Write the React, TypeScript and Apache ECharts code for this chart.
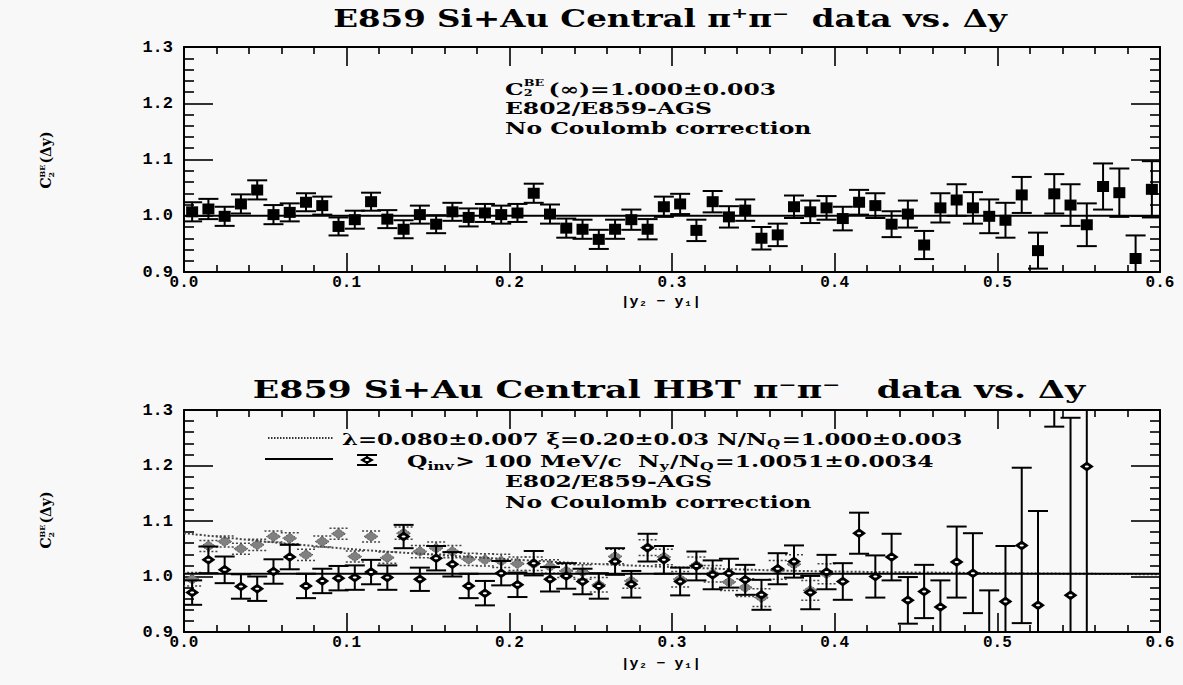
import { useEffect, useRef } from "react";
import * as echarts from "echarts";

// ---------- data ----------
const binCenters = [
  0.005, 0.015, 0.025, 0.035, 0.045, 0.055, 0.065, 0.075, 0.085, 0.095,
  0.105, 0.115, 0.125, 0.135, 0.145, 0.155, 0.165, 0.175, 0.185, 0.195,
  0.205, 0.215, 0.225, 0.235, 0.245, 0.255, 0.265, 0.275, 0.285, 0.295,
  0.305, 0.315, 0.325, 0.335, 0.345, 0.355, 0.365, 0.375, 0.385, 0.395,
  0.405, 0.415, 0.425, 0.435, 0.445, 0.455, 0.465, 0.475, 0.485, 0.495,
  0.505, 0.515, 0.525, 0.535, 0.545, 0.555, 0.565, 0.575, 0.585, 0.595,
];

// top panel: pi+ pi- C2(dy)
const topValues = [
  1.007, 1.012, 0.999, 1.021, 1.046, 1.002, 1.006, 1.024, 1.018, 0.981,
  0.993, 1.025, 0.994, 0.976, 1.002, 0.985, 1.007, 0.997, 1.005, 1.002,
  1.005, 1.040, 1.003, 0.978, 0.976, 0.958, 0.976, 0.993, 0.976, 1.016,
  1.021, 0.974, 1.025, 0.998, 1.010, 0.960, 0.966, 1.016, 1.007, 1.014,
  0.995, 1.024, 1.018, 0.985, 1.003, 0.948, 1.014, 1.028, 1.014, 0.999,
  0.992, 1.037, 0.938, 1.039, 1.019, 0.984, 1.052, 1.041, 0.924, 1.047,
];
const topErrors = [
  0.017, 0.018, 0.017, 0.017, 0.017, 0.017, 0.016, 0.016, 0.016, 0.016,
  0.016, 0.016, 0.016, 0.016, 0.016, 0.016, 0.016, 0.016, 0.016, 0.016,
  0.016, 0.017, 0.017, 0.017, 0.017, 0.017, 0.017, 0.018, 0.018, 0.018,
  0.018, 0.019, 0.019, 0.019, 0.019, 0.020, 0.020, 0.020, 0.020, 0.021,
  0.021, 0.022, 0.022, 0.023, 0.024, 0.025, 0.026, 0.028, 0.028, 0.030,
  0.031, 0.032, 0.032, 0.035, 0.037, 0.038, 0.041, 0.043, 0.041, 0.050,
];
const topFitLevel = 1.0;

// bottom panel: pi- pi-, Qinv > 100 MeV/c (solid diamonds)
const hbtValues = [
  0.971, 1.030, 1.012, 0.982, 0.978, 1.009, 1.035, 0.983, 0.992, 0.997,
  0.998, 1.008, 0.998, 1.072, 0.995, 1.033, 1.022, 0.983, 0.970, 1.006,
  0.985, 1.024, 0.995, 1.001, 0.991, 0.983, 1.027, 0.986, 1.052, 1.030,
  0.991, 1.019, 1.003, 1.006, 0.994, 0.967, 1.014, 1.027, 0.971, 1.008,
  0.991, 1.078, 1.000, 1.035, 0.957, 0.973, 0.945, 1.026, 1.006, 0.890,
  0.955, 1.056, 0.948, 1.500, 0.966, 1.198,
];
const hbtErrors = [
  0.022, 0.024, 0.024, 0.022, 0.022, 0.022, 0.022, 0.022, 0.022, 0.022,
  0.022, 0.022, 0.022, 0.021, 0.021, 0.022, 0.022, 0.022, 0.022, 0.022,
  0.022, 0.022, 0.022, 0.023, 0.023, 0.023, 0.024, 0.024, 0.025, 0.025,
  0.025, 0.026, 0.026, 0.026, 0.027, 0.027, 0.028, 0.029, 0.030, 0.031,
  0.033, 0.037, 0.038, 0.042, 0.042, 0.048, 0.048, 0.064, 0.072, 0.085,
  0.100, 0.140, 0.170, 0.230, 0.320, 0.400,
];
const hbtFitLevel = 1.005;

// bottom panel: all-Q data (hatched, dotted error bars)
const allQValues = [
  0.995, 1.055, 1.063, 1.050, 1.057, 1.072, 1.069, 1.039, 1.063, 1.077,
  1.036, 1.072, 1.034, 1.078, 1.045, 1.051, 1.045, 1.031, 1.030, 1.028,
  1.023, 1.023, 1.018, 1.010, 1.008, 0.985, 1.036, 0.992, 1.052, 1.035,
  0.995, 1.020, 1.005, 0.990, 0.980, 0.962, 1.012, 1.022, 0.975, 1.005,
];
const allQErrors = [
  0.012, 0.010, 0.010, 0.010, 0.010, 0.010, 0.010, 0.010, 0.010, 0.010,
  0.010, 0.010, 0.010, 0.011, 0.011, 0.011, 0.011, 0.011, 0.011, 0.012,
  0.012, 0.012, 0.012, 0.012, 0.013, 0.013, 0.013, 0.013, 0.014, 0.014,
  0.014, 0.015, 0.015, 0.015, 0.016, 0.016, 0.017, 0.017, 0.018, 0.018,
];

// fit curve (dotted)
const fitX = [0.0, 0.05, 0.1, 0.15, 0.2, 0.25, 0.3, 0.35, 0.4, 0.5, 0.6];
const fitY = [1.078, 1.063, 1.050, 1.040, 1.031, 1.023, 1.017, 1.012, 1.009, 1.006, 1.004];

const xTickLabels = ["0.0", "0.1", "0.2", "0.3", "0.4", "0.5", "0.6"];
const yTickLabels = ["0.9", "1.0", "1.1", "1.2", "1.3"];

// ---------- style ----------
const MONO = "'Liberation Mono', 'DejaVu Sans Mono', monospace";
const SERIF = "'DejaVu Serif', 'Liberation Serif', serif";
const NB = "\u00a0";
const LEG_SX = 1.42;
const LEG_FS = 16.5;

let measureCtx: CanvasRenderingContext2D | null = null;
const measure = (text: string, size: number, family: string) => {
  if (!measureCtx) measureCtx = document.createElement("canvas").getContext("2d");
  if (!measureCtx) return text.length * size * 0.6;
  measureCtx.font = `bold ${size}px ${family}`;
  return measureCtx.measureText(text).width;
};

const xAxisDef = (gridIndex: number, position: string, showLabels: boolean) => ({
  type: "value",
  gridIndex,
  position,
  min: 0,
  max: 0.6,
  interval: 0.1,
  axisLine: { show: true, onZero: false, lineStyle: { color: "#000", width: 2 } },
  axisTick: { show: true, inside: true, length: 19, lineStyle: { color: "#000", width: 1.6 } },
  minorTick: { show: true, splitNumber: 5, length: 7, lineStyle: { color: "#000", width: 1.6 } },
  splitLine: { show: false },
  minorSplitLine: { show: false },
  axisLabel: {
    show: showLabels,
    margin: 3,
    color: "#000",
    fontFamily: MONO,
    fontWeight: "bold",
    fontSize: 16,
    formatter: (v: number) => xTickLabels[Math.round(v * 10)] ?? "",
  },
});

const yAxisDef = (gridIndex: number, position: string, showLabels: boolean) => ({
  type: "value",
  gridIndex,
  position,
  min: 0.9,
  max: 1.3,
  interval: 0.1,
  axisLine: { show: true, onZero: false, lineStyle: { color: "#000", width: 2 } },
  axisTick: { show: true, inside: true, length: 29, lineStyle: { color: "#000", width: 1.6 } },
  minorTick: { show: true, splitNumber: 5, length: 10, lineStyle: { color: "#000", width: 1.6 } },
  splitLine: { show: false },
  minorSplitLine: { show: false },
  axisLabel: {
    show: showLabels,
    margin: 11,
    color: "#000",
    fontFamily: MONO,
    fontWeight: "bold",
    fontSize: 17,
    formatter: (v: number) => yTickLabels[Math.round((v - 0.9) * 10)] ?? "",
  },
});

const diamondPts = (cx: number, cy: number, w: number, h: number) => [
  [cx - w, cy],
  [cx, cy - h],
  [cx + w, cy],
  [cx, cy + h],
];

const makeRender = (marker: string) => (_params: any, api: any) => {
  const x = api.value(0);
  const y = api.value(1);
  const e = api.value(2);
  const c = api.coord([x, y]);
  const hi = api.coord([x, y + e]);
  const lo = api.coord([x, y - e]);
  const dashed = marker === "hatch";
  const ls: any = dashed
    ? { stroke: "#444", lineWidth: 1.5, lineDash: [2, 2] }
    : { stroke: "#000", lineWidth: 2 };
  const cap = dashed ? 9 : 10;
  const children: any[] = [
    { type: "line", shape: { x1: c[0], y1: hi[1], x2: c[0], y2: lo[1] }, style: ls },
    { type: "line", shape: { x1: c[0] - cap, y1: hi[1], x2: c[0] + cap, y2: hi[1] }, style: ls },
    { type: "line", shape: { x1: c[0] - cap, y1: lo[1], x2: c[0] + cap, y2: lo[1] }, style: ls },
  ];
  if (marker === "square") {
    children.push({
      type: "rect",
      shape: { x: c[0] - 6, y: c[1] - 5.5, width: 12, height: 11 },
      style: { fill: "#000" },
    });
  } else if (marker === "diamond") {
    children.push({
      type: "polygon",
      shape: { points: diamondPts(c[0], c[1], 7, 5) },
      style: { fill: "#000" },
    });
    children.push({
      type: "ellipse",
      shape: { cx: c[0], cy: c[1], rx: 2, ry: 1 },
      style: { fill: "#fff" },
    });
  } else {
    children.push({
      type: "polygon",
      shape: { points: diamondPts(c[0], c[1], 7, 5) },
      style: { fill: "#808080", stroke: "#444", lineWidth: 1, lineDash: [1, 1] },
    });
  }
  return { type: "group", children };
};

// plain text element, positioned and optionally stretched horizontally
const txt = (
  x: number,
  y: number,
  text: string,
  size: number,
  opts: { align?: string; family?: string; sx?: number } = {}
) => ({
  type: "text",
  z: 100,
  x,
  y,
  scaleX: opts.sx ?? 1,
  style: {
    x: 0,
    y: 0,
    text,
    fill: "#000",
    fontFamily: opts.family ?? SERIF,
    fontWeight: "bold",
    fontSize: size,
    align: opts.align ?? "left",
    textAlign: opts.align ?? "left",
    verticalAlign: "middle",
    textVerticalAlign: "middle",
  },
});

// a line of text with sub/superscripts laid out from measured widths
type Seg = { t: string; k?: "sub" | "sup"; under?: string; gap?: number };
const segLine = (
  x: number,
  y: number,
  segs: Seg[],
  size: number,
  small: number,
  sx: number,
  opts: { center?: boolean; subDy?: number; supDy?: number } = {}
) => {
  const subDy = opts.subDy ?? size * 0.28;
  const supDy = opts.supDy ?? -size * 0.33;
  const children: any[] = [];
  let cx = 0;
  for (const s of segs) {
    const fs = s.k ? small : size;
    const dy = s.k === "sub" ? subDy : s.k === "sup" ? supDy : 0;
    children.push(txt(cx, dy, s.t, fs));
    let w = measure(s.t, fs, SERIF);
    if (s.under !== undefined) {
      children.push(txt(cx, subDy, s.under, fs));
      w = Math.max(w, measure(s.under, fs, SERIF));
    }
    cx += w + (s.gap ?? 0);
  }
  if (opts.center) children.forEach((c) => (c.x -= cx / 2));
  return { type: "group", x, y, scaleX: sx, children };
};

const yLabel = (cy: number) => ({
  type: "group",
  x: 46,
  y: cy,
  rotation: Math.PI / 2,
  children: [
    segLine(0, 0, [{ t: "C" }, { t: "BE", k: "sup", under: "2", gap: 1 }, { t: "(Δy)" }], 14, 8, 1, {
      center: true,
      subDy: 4.5,
      supDy: -4.5,
    }),
  ],
});

const buildOption = (): any => ({
  animation: false,
  backgroundColor: "#f8f8f8",
  grid: [
    { left: 184, top: 47, width: 976, height: 225, outerBoundsMode: "none" },
    { left: 184, top: 410, width: 976, height: 222, outerBoundsMode: "none" },
  ],
  xAxis: [
    xAxisDef(0, "bottom", true),
    xAxisDef(0, "top", false),
    xAxisDef(1, "bottom", true),
    xAxisDef(1, "top", false),
  ],
  yAxis: [
    yAxisDef(0, "left", true),
    yAxisDef(0, "right", false),
    yAxisDef(1, "left", true),
    yAxisDef(1, "right", false),
  ],
  series: [
    {
      type: "line",
      xAxisIndex: 0,
      yAxisIndex: 0,
      data: [[0, topFitLevel], [0.6, topFitLevel]],
      showSymbol: false,
      symbol: "none",
      lineStyle: { color: "#000", width: 2 },
      z: 2,
    },
    {
      type: "custom",
      xAxisIndex: 0,
      yAxisIndex: 0,
      clip: true,
      data: binCenters.map((x, i) => [x, topValues[i], topErrors[i]]),
      encode: { x: 0, y: 1 },
      renderItem: makeRender("square"),
      z: 3,
    },
    {
      type: "custom",
      xAxisIndex: 2,
      yAxisIndex: 2,
      clip: true,
      data: binCenters.slice(0, allQValues.length).map((x, i) => [x, allQValues[i], allQErrors[i]]),
      encode: { x: 0, y: 1 },
      renderItem: makeRender("hatch"),
      z: 2,
    },
    {
      type: "line",
      xAxisIndex: 2,
      yAxisIndex: 2,
      data: fitX.map((x, i) => [x, fitY[i]]),
      smooth: 0.3,
      showSymbol: false,
      symbol: "none",
      lineStyle: { color: "#444", width: 2, type: [2, 2] },
      z: 2,
    },
    {
      type: "line",
      xAxisIndex: 2,
      yAxisIndex: 2,
      data: [[0, hbtFitLevel], [0.6, hbtFitLevel]],
      showSymbol: false,
      symbol: "none",
      lineStyle: { color: "#000", width: 2 },
      z: 3,
    },
    {
      type: "custom",
      xAxisIndex: 2,
      yAxisIndex: 2,
      clip: true,
      data: binCenters.slice(0, hbtValues.length).map((x, i) => [x, hbtValues[i], hbtErrors[i]]),
      encode: { x: 0, y: 1 },
      renderItem: makeRender("diamond"),
      z: 4,
    },
  ],
  graphic: [
    // titles
    txt(670, 18, `E859 Si+Au Central${NB}π⁺π⁻${NB}${NB}data vs. Δy`, 25, { align: "center", sx: 1.3 }),
    txt(669, 389, `E859 Si+Au Central HBT π⁻π⁻${NB}${NB}${NB}data vs. Δy`, 25, { align: "center", sx: 1.39 }),
    // top legend
    segLine(505, 89, [{ t: "C" }, { t: "BE", k: "sup", under: "2", gap: 3 }, { t: "(∞)=1.000±0.003" }], LEG_FS, 9, LEG_SX, {
      subDy: 4.5,
      supDy: -5.5,
    }),
    txt(505, 108.5, "E802/E859-AGS", LEG_FS, { sx: LEG_SX }),
    txt(505, 128, "No Coulomb correction", LEG_FS, { sx: LEG_SX }),
    // bottom legend
    {
      type: "line",
      z: 100,
      shape: { x1: 268, y1: 438, x2: 334, y2: 438 },
      style: { stroke: "#333", lineWidth: 2, lineDash: [1.5, 1.5] },
    },
    segLine(
      342,
      439,
      [{ t: "λ=0.080±0.007 ξ=0.20±0.03 N/N" }, { t: "Q", k: "sub", gap: 1 }, { t: "=1.000±0.003" }],
      LEG_FS,
      11,
      1.38,
      { subDy: 4.5 }
    ),
    {
      type: "line",
      z: 100,
      shape: { x1: 265, y1: 459, x2: 333, y2: 459 },
      style: { stroke: "#000", lineWidth: 2 },
    },
    {
      type: "group",
      z: 100,
      x: 367,
      y: 460,
      children: [
        { type: "line", shape: { x1: 0, y1: -5, x2: 0, y2: 5 }, style: { stroke: "#000", lineWidth: 2 } },
        { type: "line", shape: { x1: -10, y1: -5, x2: 10, y2: -5 }, style: { stroke: "#000", lineWidth: 2 } },
        { type: "line", shape: { x1: -10, y1: 5, x2: 10, y2: 5 }, style: { stroke: "#000", lineWidth: 2 } },
        { type: "polygon", shape: { points: diamondPts(0, 0, 7, 4) }, style: { fill: "#000" } },
        { type: "ellipse", shape: { cx: 0, cy: 0, rx: 2, ry: 1 }, style: { fill: "#fff" } },
      ],
    },
    segLine(
      407,
      461,
      [
        { t: "Q" },
        { t: "inv", k: "sub", gap: 1 },
        { t: `>${NB}100 MeV/c${NB}${NB}N` },
        { t: "y", k: "sub", gap: 1 },
        { t: "/N" },
        { t: "Q", k: "sub", gap: 1 },
        { t: "=1.0051±0.0034" },
      ],
      LEG_FS,
      11,
      LEG_SX,
      { subDy: 4.5 }
    ),
    txt(505, 481.5, "E802/E859-AGS", LEG_FS, { sx: LEG_SX }),
    txt(505, 502, "No Coulomb correction", LEG_FS, { sx: LEG_SX }),
    // axis names
    txt(661, 301, "|y₂ − y₁|", 13, { align: "center", family: MONO, sx: 1.15 }),
    txt(661, 663, "|y₂ − y₁|", 13, { align: "center", family: MONO, sx: 1.15 }),
    yLabel(160),
    yLabel(520),
  ],
});

export default function App() {
  const ref = useRef<HTMLDivElement>(null);
  useEffect(() => {
    const chart = echarts.init(ref.current!, null, { renderer: "svg" });
    chart.setOption(buildOption());
    return () => chart.dispose();
  }, []);
  return (
    <div
      ref={ref}
      style={{ position: "fixed", left: 0, top: 0, width: 1183, height: 685 }}
    />
  );
}
